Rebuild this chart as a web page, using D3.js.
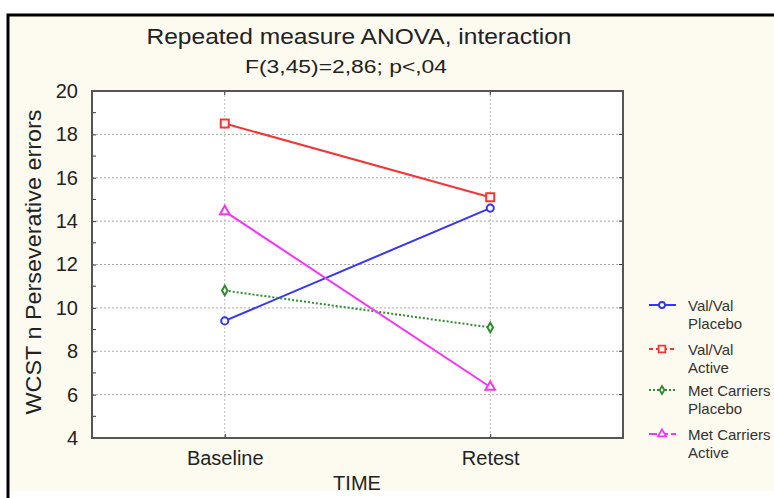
<!DOCTYPE html>
<html><head><meta charset="utf-8">
<script src="https://cdn.jsdelivr.net/npm/d3@7"></script>
<style>body{margin:0;background:#fff}svg{display:block}</style>
</head><body><svg id="c" width="774" height="498"></svg>
<script>
const categories = ["Baseline", "Retest"];
const valValPlacebo = [9.4, 14.6];
const valValActive = [18.5, 15.1];
const metPlacebo = [10.8, 9.1];
const metActive = [14.45, 6.35];
const yTicks = [4, 6, 8, 10, 12, 14, 16, 18, 20];
const seriesNames = [["Val/Val", "Placebo"], ["Val/Val", "Active"], ["Met Carriers", "Placebo"], ["Met Carriers", "Active"]];

const series = [
  {name: seriesNames[0], values: valValPlacebo, color: "#3535f5", dash: null, marker: "circle"},
  {name: seriesNames[1], values: valValActive, color: "#f53535", dash: null, legendDash: "4,3", marker: "square"},
  {name: seriesNames[2], values: metPlacebo, color: "#2e8b2e", dash: "2,2", marker: "diamond"},
  {name: seriesNames[3], values: metActive, color: "#f535f5", dash: null, legendDash: "8,3", marker: "triangle"}
];

const svg = d3.select("#c");
const font = "'Liberation Sans', Arial, sans-serif";
const L = 92, T = 91, R = 623, B = 438;

// outer panel
svg.append("rect").attr("x", 8).attr("y", 15).attr("width", 780).attr("height", 476).attr("fill", "#fdfaf0");
svg.append("path").attr("d", "M8,498 V15 H774").attr("fill", "none").attr("stroke", "#000").attr("stroke-width", 3);

const x = d3.scalePoint().domain(categories).range([L, R]).padding(0.5);
const y = d3.scaleLinear().domain([4, 20]).range([B, T]);

svg.append("rect").attr("x", L).attr("y", T).attr("width", R - L).attr("height", B - T).attr("fill", "#fff");

// grid
const g = svg.append("g");
g.selectAll("line.h").data(yTicks.filter(v => v > 4 && v < 20)).join("line")
  .attr("x1", L).attr("x2", R).attr("y1", d => y(d)).attr("y2", d => y(d))
  .attr("stroke", "#aaa").attr("stroke-width", 1).attr("stroke-dasharray", "2,2");
g.selectAll("line.v").data(categories).join("line")
  .attr("x1", d => x(d)).attr("x2", d => x(d)).attr("y1", T).attr("y2", B)
  .attr("stroke", "#bbb").attr("stroke-width", 1).attr("stroke-dasharray", "2,2");

// axes
const yAxis = d3.axisLeft(y).tickValues(yTicks).tickSize(-4).tickPadding(14);
const ay = svg.append("g").attr("transform", `translate(${L},0)`).call(yAxis);
ay.select(".domain").remove();
ay.selectAll(".tick line").attr("stroke", "#333");
ay.selectAll("text").attr("font-family", font).attr("font-size", 20).attr("fill", "#222");
// minor ticks
const minor = d3.range(5, 20, 2);
svg.append("g").selectAll("line").data(minor).join("line")
  .attr("x1", L).attr("x2", L + 4).attr("y1", d => y(d)).attr("y2", d => y(d)).attr("stroke", "#333");
svg.append("g").selectAll("line").data(yTicks).join("line")
  .attr("x1", R - 4).attr("x2", R).attr("y1", d => y(d)).attr("y2", d => y(d)).attr("stroke", "#333");

const xAxis = d3.axisBottom(x).tickSize(-4).tickPadding(13);
const ax = svg.append("g").attr("transform", `translate(0,${B})`).call(xAxis);
ax.select(".domain").remove();
ax.selectAll(".tick line").attr("stroke", "#333");
ax.selectAll("text").attr("font-family", font).attr("font-size", 20).attr("fill", "#222");
svg.append("g").selectAll("line").data(categories).join("line")
  .attr("x1", d => x(d)).attr("x2", d => x(d)).attr("y1", T).attr("y2", T + 4).attr("stroke", "#333");

svg.append("rect").attr("x", L).attr("y", T).attr("width", R - L).attr("height", B - T)
  .attr("fill", "none").attr("stroke", "#555").attr("stroke-width", 2);

// lines
const line = d3.line().x((d, i) => x(categories[i])).y(d => y(d));
const sym = {circle: d3.symbolCircle, square: d3.symbolSquare, diamond: d3.symbolDiamond, triangle: d3.symbolTriangle};
const symSize = {circle: 40, square: 64, diamond: 26, triangle: 40};
series.forEach(s => {
  svg.append("path").datum(s.values).attr("d", line).attr("fill", "none")
    .attr("stroke", s.color).attr("stroke-width", 2).attr("stroke-dasharray", s.dash);
  svg.append("g").selectAll("path").data(s.values).join("path")
    .attr("transform", (d, i) => `translate(${x(categories[i])},${y(d)})`)
    .attr("d", d3.symbol(sym[s.marker], symSize[s.marker]))
    .attr("fill", "#fff").attr("stroke", s.color).attr("stroke-width", 2);
});

// legend
const legY = [305, 349, 390, 434];
series.forEach((s, i) => {
  const lg = svg.append("g").attr("transform", `translate(0,${legY[i]})`);
  lg.append("line").attr("x1", 649).attr("x2", 676).attr("y1", 0).attr("y2", 0)
    .attr("stroke", s.color).attr("stroke-width", 2).attr("stroke-dasharray", s.legendDash || s.dash);
  lg.append("path").attr("transform", "translate(662,0)").attr("d", d3.symbol(sym[s.marker], symSize[s.marker] * 0.7))
    .attr("fill", "#fdfaf0").attr("stroke", s.color).attr("stroke-width", 1.8);
  s.name.forEach((t, j) => lg.append("text").attr("x", 688).attr("y", 6 + j * 18)
    .attr("font-family", font).attr("font-size", 15).attr("fill", "#333").text(t));
});

// titles
svg.append("text").attr("x", 359).attr("y", 44).attr("text-anchor", "middle")
  .attr("font-family", font).attr("font-size", 22).attr("fill", "#222")
  .attr("textLength", 425).attr("lengthAdjust", "spacingAndGlyphs")
  .text("Repeated measure ANOVA, interaction");
svg.append("text").attr("x", 346).attr("y", 73).attr("text-anchor", "middle")
  .attr("font-family", font).attr("font-size", 18).attr("fill", "#222")
  .attr("textLength", 202).attr("lengthAdjust", "spacingAndGlyphs")
  .text("F(3,45)=2,86; p<,04");
svg.append("text").attr("transform", "translate(41,262) rotate(-90)").attr("text-anchor", "middle")
  .attr("font-family", font).attr("font-size", 22).attr("fill", "#222")
  .attr("textLength", 305).attr("lengthAdjust", "spacingAndGlyphs")
  .text("WCST n Perseverative errors");
svg.append("text").attr("x", 357).attr("y", 490).attr("text-anchor", "middle")
  .attr("font-family", font).attr("font-size", 20).attr("fill", "#222").text("TIME");
</script></body></html>
